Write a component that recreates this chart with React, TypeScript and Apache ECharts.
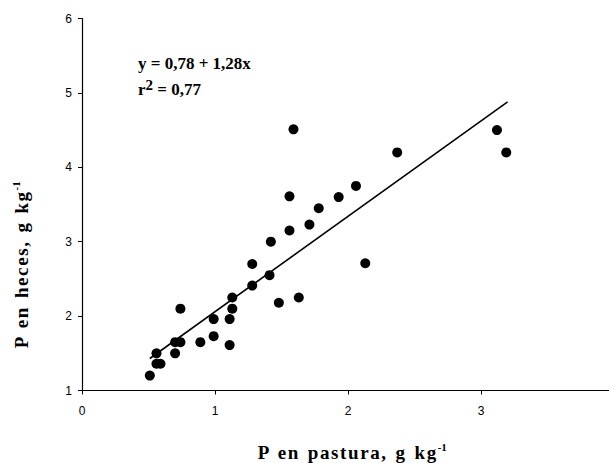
import React, { useEffect, useRef } from "react";
import * as echarts from "echarts";

const pastura: number[] = [
  0.51, 0.56, 0.56, 0.59, 0.7, 0.7, 0.74, 0.74, 0.89, 0.99, 0.99, 1.11, 1.11,
  1.13, 1.13, 1.28, 1.28, 1.41, 1.42, 1.48, 1.63, 1.56, 1.56, 1.59, 1.71, 1.78,
  1.93, 2.06, 2.13, 2.37, 3.12, 3.19,
];
const heces: number[] = [
  1.2, 1.5, 1.36, 1.36, 1.5, 1.65, 1.65, 2.1, 1.65, 1.73, 1.96, 1.96, 1.61,
  2.1, 2.25, 2.41, 2.7, 2.55, 3.0, 2.18, 2.25, 3.15, 3.61, 4.51, 3.23, 3.45,
  3.6, 3.75, 2.71, 4.2, 4.5, 4.2,
];
const fitX: number[] = [0.51, 3.2];
const fitY: number[] = [1.43, 4.88];
const xTicks: number[] = [0, 1, 2, 3, 4];
const yTicks: number[] = [1, 2, 3, 4, 5, 6];

const H = "\u200A";
const spaced = (s: string) =>
  s
    .split(" ")
    .map((w) => w.split("").join(H))
    .join("  ");

export default function App() {
  const ref = useRef<HTMLDivElement>(null);
  useEffect(() => {
    if (!ref.current) return;
    const chart = echarts.init(ref.current, undefined, { renderer: "svg" });
    const serif = "'Liberation Serif', 'Times New Roman', serif";
    const sans = "'Liberation Sans', Arial, sans-serif";
    const supStyle = {
      font: `bold 11px ${serif}`,
      fill: "#000",
      verticalAlign: "bottom",
      padding: [0, 0, 11, 1],
    };
    chart.setOption({
      animation: false,
      backgroundColor: "#ffffff",
      grid: {
        left: 82,
        top: 18.5,
        width: 532,
        height: 372,
        containLabel: false,
        outerBoundsMode: "none",
      },
      xAxis: {
        type: "value",
        min: xTicks[0],
        max: xTicks[xTicks.length - 1],
        interval: 1,
        splitLine: { show: false },
        axisLine: { show: true, onZero: false, lineStyle: { color: "#000", width: 1.2 } },
        axisTick: { show: true, length: 4, inside: false, lineStyle: { color: "#000", width: 1 } },
        axisLabel: { color: "#000", fontFamily: sans, fontSize: 12, margin: 14 },
      },
      yAxis: {
        type: "value",
        min: yTicks[0],
        max: yTicks[yTicks.length - 1],
        interval: 1,
        splitLine: { show: false },
        axisLine: { show: true, onZero: false, lineStyle: { color: "#000", width: 1.2 } },
        axisTick: { show: true, length: 4, inside: false, lineStyle: { color: "#000", width: 1 } },
        axisLabel: { color: "#000", fontFamily: sans, fontSize: 12, margin: 10 },
      },
      series: [
        {
          type: "scatter",
          data: pastura.map((x, i) => [x, heces[i]]),
          symbol: "circle",
          symbolSize: 10,
          itemStyle: { color: "#000", opacity: 1 },
        },
        {
          type: "line",
          data: fitX.map((x, i) => [x, fitY[i]]),
          showSymbol: false,
          symbol: "none",
          lineStyle: { color: "#000", width: 1.6 },
        },
      ],
      graphic: [
        {
          type: "text",
          x: 138,
          y: 63,
          style: {
            text: "y = 0,78 + 1,28x",
            font: `bold 17px ${serif}`,
            fill: "#000",
            verticalAlign: "middle",
          },
        },
        {
          type: "text",
          x: 138,
          y: 89,
          style: {
            text: "r{s|2} = 0,77",
            font: `bold 17px ${serif}`,
            fill: "#000",
            verticalAlign: "middle",
            rich: {
              s: { font: `bold 15px ${serif}`, fill: "#000", verticalAlign: "bottom", padding: [0, 0, 9, 0] },
            },
          },
        },
        {
          type: "text",
          x: 352,
          y: 452,
          style: {
            text: spaced("P en pastura, g kg") + "{s|-1}",
            font: `bold 19px ${serif}`,
            fill: "#000",
            align: "center",
            verticalAlign: "middle",
            rich: { s: supStyle },
          },
        },
        {
          type: "text",
          x: 21,
          y: 265,
          rotation: Math.PI / 2,
          style: {
            text: spaced("P en heces, g kg") + "{s|-1}",
            font: `bold 19px ${serif}`,
            fill: "#000",
            align: "center",
            verticalAlign: "middle",
            rich: { s: supStyle },
          },
        },
      ],
    });
    return () => chart.dispose();
  }, []);
  return (
    <div
      ref={ref}
      style={{ position: "fixed", left: 0, top: 0, width: 609, height: 463, background: "#fff" }}
    />
  );
}
